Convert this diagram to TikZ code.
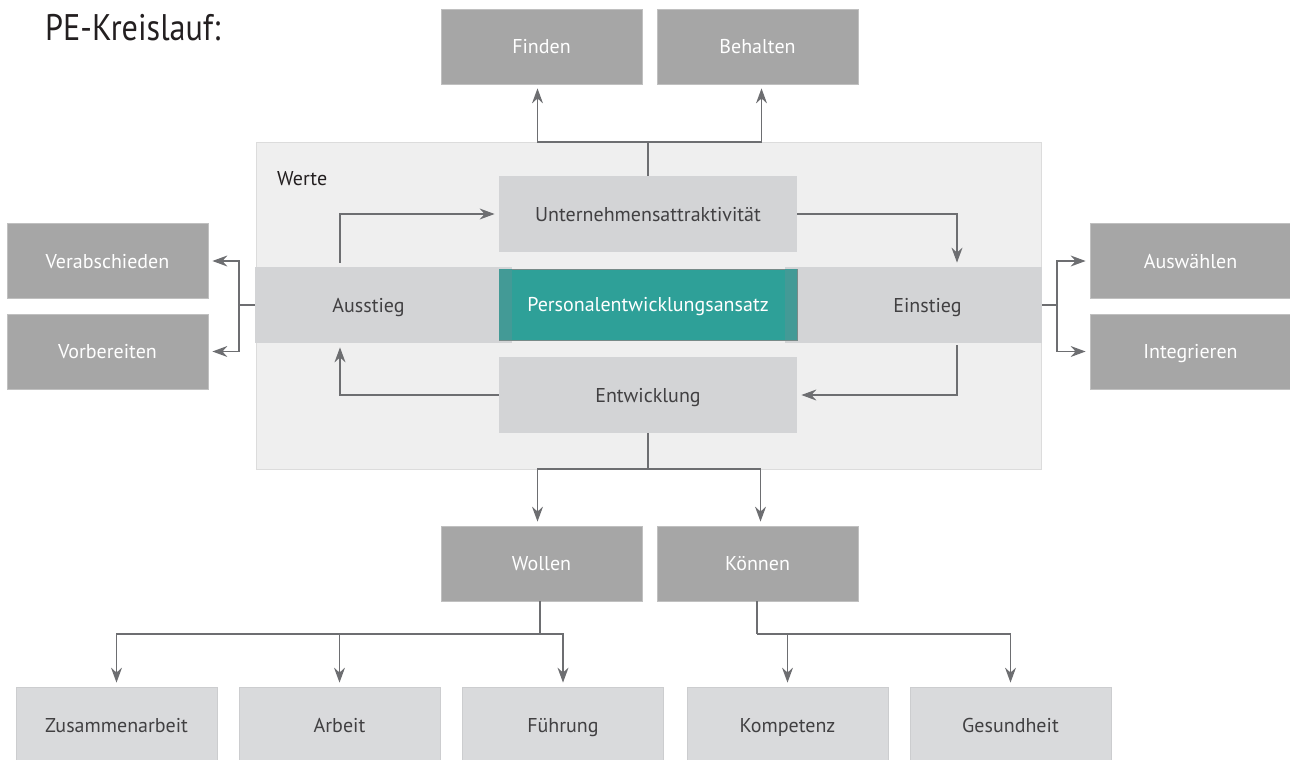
\documentclass[tikz,border=0pt]{standalone}
\usepackage{fontspec}
\setmainfont{PT Sans}
\newfontfamily\titlefont[FakeStretch=0.87]{PT Sans}
\usetikzlibrary{arrows.meta}

\definecolor{boxdark}{RGB}{166,166,166}
\definecolor{boxdarkline}{RGB}{192,192,192}
\definecolor{boxlight}{RGB}{217,218,220}
\definecolor{boxlightline}{RGB}{204,205,207}
\definecolor{bandgray}{RGB}{211,212,214}
\definecolor{panelgray}{RGB}{239,239,239}
\definecolor{panelline}{RGB}{220,220,220}
\definecolor{peteal}{RGB}{46,160,152}
\definecolor{tealmix}{RGB}{67,154,150}
\definecolor{tealline}{RGB}{120,138,136}
\definecolor{linegray}{RGB}{109,110,113}
\definecolor{textdark}{RGB}{65,64,66}
\definecolor{titleblack}{RGB}{35,31,32}

\begin{document}
\begin{tikzpicture}[x=1pt,y=-1pt,
  boxtext/.style={font=\fontsize{20}{24}\selectfont, text=textdark, text height=14pt, text depth=0pt, inner sep=0pt},
  box/.style={rectangle, inner sep=0pt, minimum width=201pt, minimum height=75pt, line width=0.8pt, font=\fontsize{20}{24}\selectfont, text height=14pt, text depth=0pt},
  darkbox/.style={box, fill=boxdark, draw=boxdarkline, text=white},
  lightbox/.style={box, fill=boxlight, draw=boxlightline, text=textdark},
  band/.style={box, fill=bandgray, draw=none, text=textdark, minimum width=298pt, minimum height=76pt},
  link/.style={draw=linegray, line width=1.2pt},
  arr/.style={link, -{Stealth[length=15pt,width=11pt,inset=5pt]}, shorten >=4pt}]

 \useasboundingbox (0,0) rectangle (1290,760);

 \node[anchor=base west, inner sep=0pt, text=titleblack, font=\titlefont\fontsize{37}{44}\selectfont] (title) at (45,41) {PE-Kreislauf:};

 \node[rectangle, fill=panelgray, draw=panelline, line width=0.8pt, inner sep=0pt, minimum width=785pt, minimum height=327pt] (werte) at (648.5,305.5) {};
 \node[anchor=base west, inner sep=0pt, font=\fontsize{20}{24}\selectfont, text=titleblack] (wertelabel) at (277,185) {Werte};

 \node[darkbox] (finden) at (541.5,46.5) {Finden};
 \node[darkbox] (behalten) at (757.5,46.5) {Behalten};

 \node[darkbox] (verab) at (107.5,261) {Verabschieden};
 \node[darkbox] (vorb) at (107.5,351.5) {Vorbereiten};
 \node[darkbox] (ausw) at (1190.5,261) {Auswählen};
 \node[darkbox] (integ) at (1190.5,351.5) {Integrieren};

 \node[band] (ua) at (648,214) {Unternehmensattraktivität};
 \node[band, minimum width=257pt, label={[boxtext, xshift=-15pt]center:Ausstieg}] (aus) at (383.5,305) {};
 \node[band, minimum width=257pt, label={[boxtext, xshift=14pt]center:Einstieg}] (ein) at (913.5,305) {};
 \node[box, fill=peteal, draw=tealline, text=white, minimum width=298pt, minimum height=71pt] (pea) at (648,304.5) {Personalentwicklungsansatz};
 \fill[tealmix] (pea.north west) rectangle ([xshift=13pt]pea.south west);
 \fill[tealmix] ([xshift=-12pt]pea.north east) rectangle (pea.south east);
 \node[band] (ent) at (648,395) {Entwicklung};

 \node[darkbox] (wollen) at (541.5,563.5) {Wollen};
 \node[darkbox] (koennen) at (757.5,563.5) {Können};

 \node[lightbox, minimum height=76pt] (zus) at (116.5,725) {Zusammenarbeit};
 \node[lightbox, minimum height=76pt] (arbeit) at (339.5,725) {Arbeit};
 \node[lightbox, minimum height=76pt] (fuehr) at (563,725) {Führung};
 \node[lightbox, minimum height=76pt] (komp) at (787.5,725) {Kompetenz};
 \node[lightbox, minimum height=76pt] (gesund) at (1010.5,725) {Gesundheit};

 \coordinate (topjoin) at (648,142);
 \draw[link] (ua.north) -- (topjoin);
 \draw[arr] (topjoin) -| ([xshift=-4pt]finden.south);
 \draw[arr] (topjoin) -| ([xshift=4pt]behalten.south);

 \draw[arr, shorten <=4pt] ([xshift=-43.5pt]aus.north) |- (ua.west);
 \draw[arr] (ua.east) -| ([xshift=43.5pt]ein.north);
 \draw[arr, shorten <=2pt] ([xshift=43.5pt]ein.south) |- (ent.east);
 \draw[arr] (ent.west) -| ([xshift=-43.5pt]aus.south);

 \coordinate (ljoin) at (239,305);
 \draw[link] (aus.west) -- (ljoin);
 \draw[arr] (ljoin) |- (verab.east);
 \draw[arr] (ljoin) |- (vorb.east);

 \coordinate (rjoin) at (1057,305);
 \draw[link] (ein.east) -- (rjoin);
 \draw[arr] (rjoin) |- (ausw.west);
 \draw[arr] (rjoin) |- (integ.west);

 \coordinate (botjoin) at (648,469);
 \draw[link] (ent.south) -- (botjoin);
 \draw[arr] (botjoin) -| ([xshift=-4pt]wollen.north);
 \draw[arr] (botjoin) -| ([xshift=3pt]koennen.north);

 \coordinate (wjoin) at (540,634);
 \draw[link] (wollen.south -| wjoin) -- (wjoin);
 \draw[arr] (wjoin) -| (zus.north);
 \draw[arr] (wjoin) -| (arbeit.north);
 \draw[arr] (wjoin) -| (fuehr.north);

 \coordinate (kjoin) at (757,634);
 \draw[link] (koennen.south -| kjoin) -- (kjoin);
 \draw[arr] (kjoin) -| (komp.north);
 \draw[arr] (kjoin) -| (gesund.north);
\end{tikzpicture}
\end{document}
